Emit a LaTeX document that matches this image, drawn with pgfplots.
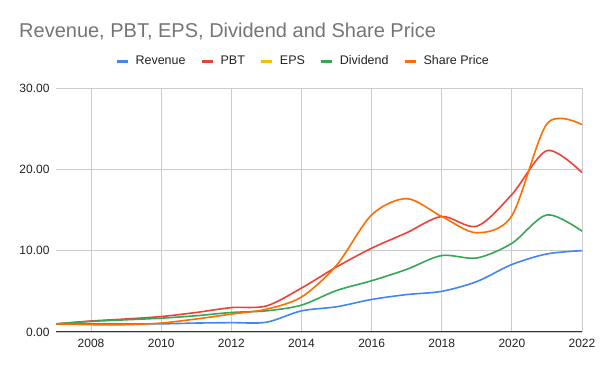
\documentclass[border=0pt]{standalone}
\usepackage{fontspec}
\setmainfont{Liberation Sans}
\usepackage{pgfplots}
\pgfplotsset{compat=1.18}
\definecolor{cRev}{HTML}{4285F4}
\definecolor{cPBT}{HTML}{EA4335}
\definecolor{cEPS}{HTML}{FBBC04}
\definecolor{cDiv}{HTML}{34A853}
\definecolor{cSP}{HTML}{FF6D01}
\definecolor{titlegray}{HTML}{757575}
\definecolor{textdark}{HTML}{222222}
\definecolor{gridgray}{HTML}{CCCCCC}
\definecolor{axisdark}{HTML}{333333}
\begin{document}
\begin{tikzpicture}[x=1pt,y=1pt]
\path[use as bounding box] (0,0) rectangle (600,371);
\node[anchor=base west, font=\fontsize{20}{24}\selectfont, text=titlegray, inner sep=0] at (19,333) {Revenue, PBT, EPS, Dividend and Share Price};
\begin{axis}[
  at={(56pt,39pt)}, anchor=south west,
  width=526pt, height=244pt, scale only axis,
  xmin=2007, xmax=2022, ymin=0, ymax=30,
  xtick={2008,2010,...,2022}, ytick={0,10,20,30},
  axis line style={draw=none},
  major tick length=0pt,
  grid=major, major grid style={gridgray, line width=0.8pt},
  /pgf/number format/assume math mode=true,
  xticklabel style={font=\fontsize{12}{14}\selectfont, text=textdark, yshift=-4pt, /pgf/number format/1000 sep={}},
  yticklabel style={font=\fontsize{12}{14}\selectfont, text=textdark, xshift=-3pt, /pgf/number format/fixed, /pgf/number format/fixed zerofill, /pgf/number format/precision=2},
  legend style={at={(0.47,1.11)}, anchor=center, draw=none, fill=none, legend columns=5,
    font=\fontsize{12.5}{14}\selectfont, text=textdark,
    /tikz/every odd column/.append style={column sep=4pt},
    /tikz/every even column/.append style={column sep=13pt}},
  legend image code/.code={\draw[line width=3pt] (0pt,0pt) -- (11pt,0pt);},
  every axis plot/.append style={line width=1.6pt, smooth},
]
\addplot[cRev] coordinates {(2007,1.0) (2008,1.0) (2009,1.0) (2010,1.0) (2011,1.1) (2012,1.15) (2013,1.2) (2014,2.6) (2015,3.1) (2016,4.0) (2017,4.6) (2018,5.0) (2019,6.2) (2020,8.3) (2021,9.6) (2022,10.0)};
\addplot[cPBT] coordinates {(2007,1.0) (2008,1.35) (2009,1.6) (2010,1.9) (2011,2.4) (2012,3.0) (2013,3.2) (2014,5.4) (2015,8.0) (2016,10.3) (2017,12.2) (2018,14.2) (2019,13.0) (2020,16.9) (2021,22.3) (2022,19.6)};
\addlegendimage{cEPS, line width=1.6pt}
\addplot[cDiv] coordinates {(2007,1.0) (2008,1.3) (2009,1.5) (2010,1.7) (2011,2.0) (2012,2.4) (2013,2.6) (2014,3.3) (2015,5.1) (2016,6.3) (2017,7.7) (2018,9.4) (2019,9.1) (2020,10.9) (2021,14.4) (2022,12.4)};
\addplot[cSP] coordinates {(2007,1.0) (2008,0.9) (2009,0.9) (2010,1.1) (2011,1.6) (2012,2.2) (2013,2.8) (2014,4.3) (2015,8.2) (2016,14.4) (2017,16.4) (2018,14.2) (2019,12.2) (2020,14.3) (2021,25.6) (2022,25.5)};
\legend{Revenue,PBT,EPS,Dividend,Share Price}
\draw[axisdark, line width=1pt] (axis cs:2007,0) -- (axis cs:2022,0);
\end{axis}
\end{tikzpicture}
\end{document}
